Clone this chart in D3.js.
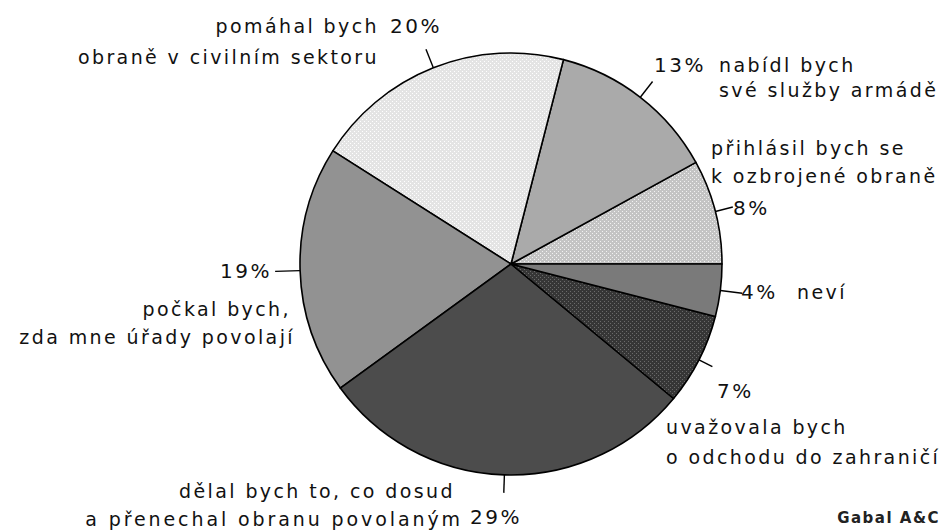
<!DOCTYPE html>
<html>
<head>
<meta charset="utf-8">
<script src="https://cdn.jsdelivr.net/npm/d3@7"></script>
<style>
  html, body { margin: 0; padding: 0; background: #fff; }
  svg { display: block; }
  text { font-family: "DejaVu Sans", sans-serif; fill: #111; }
</style>
</head>
<body>
<svg id="chart" width="948" height="532"></svg>
<script>
// ---- data (counter-clockwise from 3 o'clock) ----
const categories = [
  "přihlásil bych se k ozbrojené obraně",
  "nabídl bych své služby armádě",
  "pomáhal bych obraně v civilním sektoru",
  "počkal bych, zda mne úřady povolají",
  "dělal bych to, co dosud a přenechal obranu povolaným",
  "uvažovala bych o odchodu do zahraničí",
  "neví"
];
const values = [8, 13, 20, 19, 29, 7, 4];
const valueLabels = ["8%", "13%", "20%", "19%", "29%", "7%", "4%"];
const nameLines = [
  ["přihlásil bych se", "k ozbrojené obraně"],
  ["nabídl bych", "své služby armádě"],
  ["pomáhal bych", "obraně v civilním sektoru"],
  ["počkal bych,", "zda mne úřady povolají"],
  ["dělal bych to, co dosud", "a přenechal obranu povolaným"],
  ["uvažovala bych", "o odchodu do zahraničí"],
  ["neví"]
];
const sourceNote = "Gabal A&C";

// ---- styles ----
const baseColors = ["#c4c4c4", "#aaaaaa", "#e4e4e4", "#929292", "#4c4c4c", "#363636", "#7a7a7a"];
const dotColors  = ["#f2f2f2", null, "#ffffff", null, null, "#6a6a6a", null];

const svg = d3.select("#chart");
const cx = 511, cy = 264, R = 211;

const defs = svg.append("defs");
baseColors.forEach((c, i) => {
  const p = defs.append("pattern")
    .attr("id", "pat" + i)
    .attr("patternUnits", "userSpaceOnUse")
    .attr("width", 4).attr("height", 4);
  p.append("rect").attr("width", 4).attr("height", 4).attr("fill", c);
  if (dotColors[i]) {
    p.append("rect").attr("x", 1).attr("y", 1).attr("width", 1).attr("height", 1).attr("fill", dotColors[i]);
    p.append("rect").attr("x", 3).attr("y", 3).attr("width", 1).attr("height", 1).attr("fill", dotColors[i]);
  }
});

const pie = d3.pie().sort(null).value(d => d)
  .startAngle(Math.PI / 2).endAngle(Math.PI / 2 - 2 * Math.PI);
const arcs = pie(values);
const arc = d3.arc().innerRadius(0).outerRadius(R);

const g = svg.append("g").attr("transform", `translate(${cx},${cy})`);
g.selectAll("path.slice").data(arcs).enter().append("path")
  .attr("class", "slice")
  .attr("d", arc)
  .attr("fill", (d, i) => `url(#pat${i})`)
  .attr("stroke", "#000")
  .attr("stroke-width", 1.6)
  .attr("stroke-linejoin", "round");

// leader lines (radial, from the arc outward at the slice mid-angle)
const leaderLen = [18, 20, 20, 25, 18, 15, 22];
function polar(a, r) { return [Math.sin(a) * r, -Math.cos(a) * r]; }
g.selectAll("line.leader").data(arcs).enter().append("line")
  .attr("class", "leader")
  .each(function (d, i) {
    const a = (d.startAngle + d.endAngle) / 2;
    const p0 = polar(a, R), p1 = polar(a, R + leaderLen[i]);
    d3.select(this).attr("x1", p0[0]).attr("y1", p0[1]).attr("x2", p1[0]).attr("y2", p1[1]);
  })
  .attr("stroke", "#000").attr("stroke-width", 1.4);

// ---- label layout (text placement only) ----
const FS = 19, LS = 2.4;
const layout = [
  { pct: [733, 215, "start"], name: [[711, 155, "start"], [711, 183, "start"]] },
  { pct: [654, 72, "start"],  name: [[719, 72, "start"], [719, 97, "start"]] },
  { pct: [390, 33, "start"],  name: [[379, 33, "end"], [379, 64, "end"]] },
  { pct: [272, 278, "end"],   name: [[291, 316, "end"], [295, 344, "end"]] },
  { pct: [470, 524, "start"], name: [[455, 498, "end"], [463, 526, "end"]] },
  { pct: [717, 398, "start"], name: [[666, 434, "start"], [666, 464, "start"]] },
  { pct: [741, 299, "start"], name: [[797, 299, "start"]] }
];

const labels = svg.append("g").attr("font-size", FS).attr("letter-spacing", LS);
layout.forEach((L, i) => {
  labels.append("text")
    .attr("x", L.pct[0]).attr("y", L.pct[1]).attr("text-anchor", L.pct[2])
    .attr("font-size", 20).attr("letter-spacing", 2.5)
    .text(valueLabels[i]);
  nameLines[i].forEach((line, j) => {
    const p = L.name[j];
    labels.append("text")
      .attr("x", p[0]).attr("y", p[1]).attr("text-anchor", p[2])
      .attr("letter-spacing", j === 1 && i === 4 ? 2.9 : LS)
      .text(line);
  });
});

svg.append("text")
  .attr("x", 940).attr("y", 523).attr("text-anchor", "end")
  .attr("font-family", "Liberation Serif, serif")
  .attr("font-size", 15).attr("font-weight", "bold")
  .attr("letter-spacing", 1.5)
  .style("fill", "#222")
  .text(sourceNote);
</script>
</body>
</html>
